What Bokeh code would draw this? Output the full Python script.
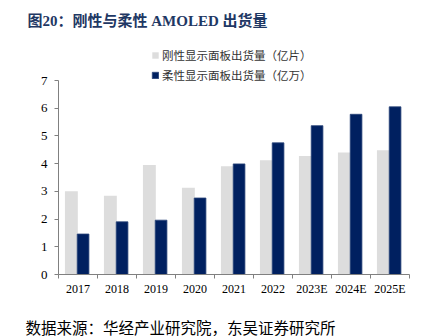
from bokeh.plotting import figure
from bokeh.layouts import column
from bokeh.models import (ColumnDataSource, Range1d, LinearAxis, FixedTicker, Legend,
                          LegendItem, Label)
from bokeh.transform import dodge
from bokeh.embed import file_html
from bokeh.resources import INLINE

categories = ["2017", "2018", "2019", "2020", "2021", "2022", "2023E", "2024E", "2025E"]
rigid = [3.00, 2.84, 3.95, 3.13, 3.91, 4.12, 4.28, 4.40, 4.48]
flexible = [1.46, 1.90, 1.96, 2.76, 3.99, 4.75, 5.37, 5.78, 6.05]
y_ticks = [0, 1, 2, 3, 4, 5, 6, 7]
title_text = "图20：刚性与柔性 AMOLED 出货量"
legend_labels = ["刚性显示面板出货量（亿片）", "柔性显示面板出货量（亿万）"]
source_text = "数据来源：华经产业研究院，东吴证券研究所"

W = 435
TITLE_H, RULE_H, MAIN_H, FOOT_H = 32, 2, 277, 23


def blank(height, left=0, right=0, fill="white"):
    f = figure(width=W, height=height, x_range=Range1d(0, W), y_range=Range1d(0, height),
               output_backend="svg", toolbar_location=None,
               x_axis_location=None, y_axis_location=None,
               min_border=0, min_border_left=left, min_border_right=right,
               min_border_top=0, min_border_bottom=0)
    f.frame_align = False
    f.outline_line_color = None
    f.xgrid.grid_line_color = None
    f.ygrid.grid_line_color = None
    f.background_fill_color = fill
    f.border_fill_color = "white"
    return f


# ---- header ----
head = blank(TITLE_H)
head.add_layout(Label(x=27, y=TITLE_H - 20, text=title_text,
                      text_font="Liberation Serif, Noto Sans CJK SC", text_font_style="bold",
                      text_font_size="15px", text_color="#1F3864", text_baseline="middle"))
head_rule = blank(RULE_H, left=16, right=10, fill="#000000")

# ---- main chart ----
n = len(categories)
centers = [i + 0.5 for i in range(n)]
src = ColumnDataSource(dict(x=centers, cat=categories, rigid=rigid, flexible=flexible))

frame_top_px, zero_px, seven_px = TITLE_H + RULE_H, 274, 80
y_end = 7 * (zero_px - frame_top_px) / (zero_px - seven_px)

p = figure(x_range=Range1d(0, n), y_range=Range1d(0, y_end),
           width=W, height=MAIN_H, output_backend="svg", toolbar_location=None,
           x_axis_location=None, min_border_left=58, min_border_right=26,
           min_border_top=0, min_border_bottom=MAIN_H - (zero_px - frame_top_px))
p.frame_align = False
p.outline_line_color = None
p.xgrid.grid_line_color = None
p.ygrid.grid_line_color = None
p.background_fill_color = "white"
p.border_fill_color = "white"

r1 = p.vbar(x=dodge("x", -0.17), top="rigid", width=0.33, source=src,
            fill_color="#DDDDDD", line_color=None)
r2 = p.vbar(x=dodge("x", 0.13), top="flexible", width=0.30, source=src,
            fill_color="#002060", line_color="#2A4478", line_width=0.8)

ya = p.yaxis[0]
ya.ticker = FixedTicker(ticks=y_ticks)
ya.bounds = (0, 7)
ya.major_tick_in = 0
ya.major_tick_out = 4
ya.minor_tick_line_color = None
ya.axis_line_color = "#808080"
ya.major_tick_line_color = "#808080"
ya.major_label_text_font = "Liberation Serif"
ya.major_label_text_font_size = "13px"
ya.major_label_text_color = "#000000"
ya.major_label_standoff = 7

tick_axis = LinearAxis(ticker=FixedTicker(ticks=list(range(n + 1))),
                       major_label_overrides={i: "" for i in range(n + 1)},
                       major_label_text_font_size="0px", major_label_standoff=0,
                       major_tick_in=0, major_tick_out=4, minor_tick_line_color=None,
                       axis_line_color="#808080", major_tick_line_color="#808080")
p.add_layout(tick_axis, "below")
label_axis = LinearAxis(ticker=FixedTicker(ticks=centers),
                        major_label_overrides={c: lab for c, lab in zip(centers, categories)},
                        major_tick_line_color=None, minor_tick_line_color=None,
                        axis_line_color=None, major_label_standoff=-3,
                        major_label_text_font="Liberation Serif",
                        major_label_text_font_size="12px", major_label_text_color="#000000")
p.add_layout(label_axis, "below")

legend = Legend(items=[LegendItem(label=legend_labels[0], renderers=[r1]),
                       LegendItem(label=legend_labels[1], renderers=[r2])],
                location=(93, 191), orientation="vertical",
                label_text_font="Noto Sans CJK SC", label_text_font_size="11.5px",
                label_text_color="#333333",
                glyph_width=8, glyph_height=8, label_height=12, label_standoff=3,
                spacing=4, padding=0, margin=0, border_line_color=None,
                background_fill_alpha=0)
p.add_layout(legend, "center")

# ---- footer ----
foot_rule = blank(RULE_H, left=16, right=12, fill="#000000")
foot = blank(FOOT_H)
foot.add_layout(Label(x=25, y=10, text=source_text,
                      text_font="Noto Sans CJK SC", text_font_size="15.5px",
                      text_color="#000000", text_baseline="middle"))

layout = column(head, head_rule, p, foot_rule, foot, spacing=0)
open("out.html", "w").write(file_html(layout, INLINE))
